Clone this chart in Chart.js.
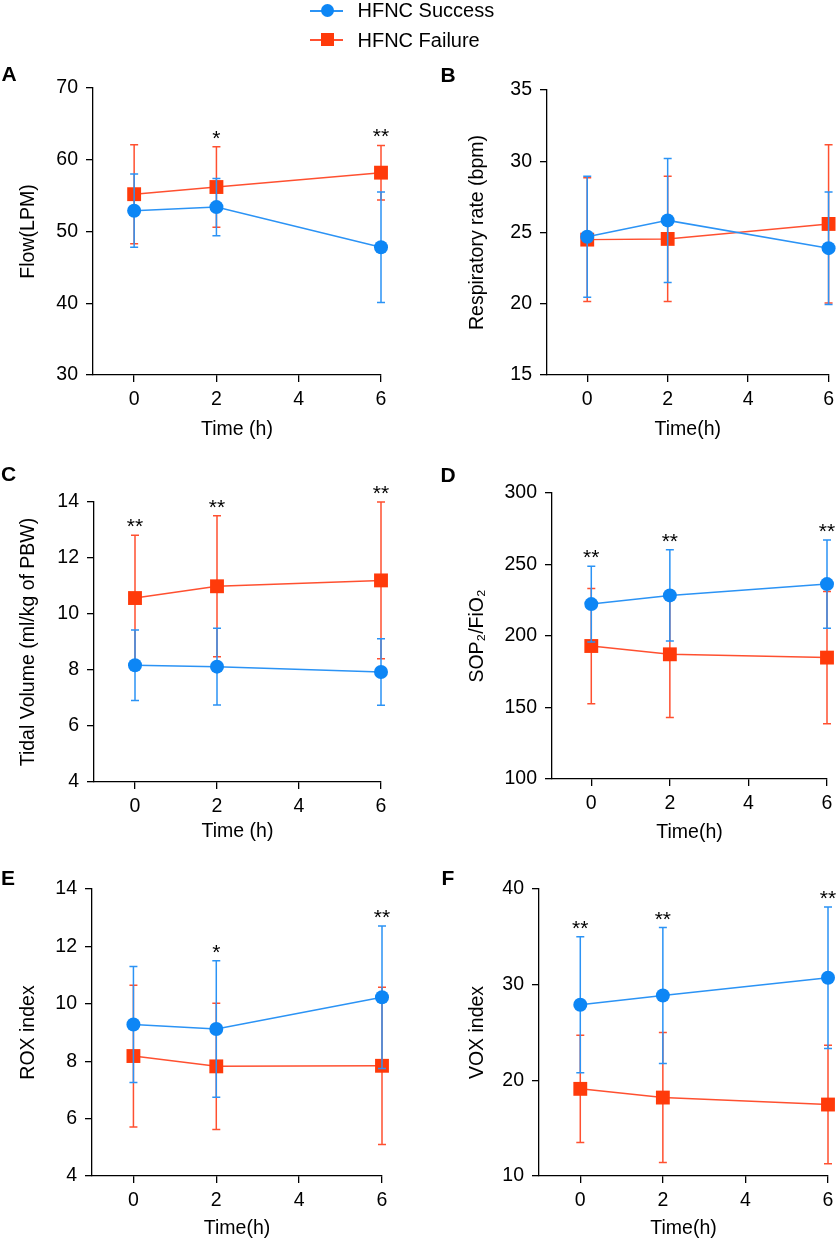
<!DOCTYPE html>
<html>
<head>
<meta charset="utf-8">
<script src="https://cdn.jsdelivr.net/npm/chart.js@4.4.0/dist/chart.umd.min.js"></script>
<style>
  html, body { margin: 0; padding: 0; background: #fff; }
  #page { position: relative; width: 840px; height: 1241px; overflow: hidden;
          font-family: 'Liberation Sans', Arial, Helvetica, sans-serif; color: #000; }
  #page canvas { position: absolute; left: 0; top: 0; }
  .txt { position: absolute; white-space: nowrap; line-height: 1; }
  .letter { font-size: 21px; font-weight: bold; }
  .keytxt { font-size: 20px; }
  .keyline { position: absolute; height: 1.5px; width: 33px; left: 310px; }
  .keydot { position: absolute; width: 13px; height: 13px; left: 320.5px; }
</style>
</head>
<body>
<div id="page">
  <!-- legend -->
  <div class="keyline" style="top:10px;background:#2b93f5"></div>
  <div class="keydot" style="top:4.3px;background:#0d86f5;border-radius:50%"></div>
  <div class="txt keytxt" style="left:357.5px;top:-0.2px">HFNC Success</div>
  <div class="keyline" style="top:39px;background:#ff5030"></div>
  <div class="keydot" style="top:33px;background:#ff3a0a"></div>
  <div class="txt keytxt" style="left:357.5px;top:29.8px">HFNC Failure</div>

  <!-- panel letters -->
  <div class="txt letter" style="left:1.5px;top:63px">A</div>
  <div class="txt letter" style="left:440.5px;top:64px">B</div>
  <div class="txt letter" style="left:1px;top:463px">C</div>
  <div class="txt letter" style="left:440.5px;top:464px">D</div>
  <div class="txt letter" style="left:1px;top:867px">E</div>
  <div class="txt letter" style="left:441.5px;top:867px">F</div>
</div>

<script>
// mean +/- SD, at 0, 2 and 6 h
const timeHours = [0, 2, 6];
const timeTicks = [0, 2, 4, 6];

const flowSuccess = [52.9, 53.4, 47.8];
const flowSuccessSD = [5.1, 4.0, 7.7];
const flowFailure = [55.2, 56.2, 58.2];
const flowFailureSD = [6.9, 5.6, 3.8];
const flowTicks = [30, 40, 50, 60, 70];
const flowStars = ['', '*', '**'];

const rrSuccess = [24.7, 25.85, 23.9];
const rrSuccessSD = [4.25, 4.35, 3.95];
const rrFailure = [24.5, 24.55, 25.6];
const rrFailureSD = [4.35, 4.4, 5.55];
const rrTicks = [15, 20, 25, 30, 35];
const rrStars = ['', '', ''];

const vtSuccess = [8.17, 8.12, 7.93];
const vtSuccessSD = [1.26, 1.37, 1.19];
const vtFailure = [10.57, 10.99, 11.2];
const vtFailureSD = [2.24, 2.52, 2.8];
const vtTicks = [4, 6, 8, 10, 12, 14];
const vtStars = ['**', '**', '**'];

const sfSuccess = [222.3, 228.4, 236.3];
const sfSuccessSD = [26.5, 31.9, 30.8];
const sfFailure = [193, 187.2, 184.9];
const sfFailureSD = [40.3, 44.2, 46.3];
const sfTicks = [100, 150, 200, 250, 300];
const sfStars = ['**', '**', '**'];

const roxSuccess = [9.28, 9.12, 10.23];
const roxSuccessSD = [2.02, 2.38, 2.48];
const roxFailure = [8.18, 7.82, 7.84];
const roxFailureSD = [2.47, 2.2, 2.74];
const roxTicks = [4, 6, 8, 10, 12, 14];
const roxStars = ['', '*', '**'];

const voxSuccess = [27.9, 28.87, 30.72];
const voxSuccessSD = [7.1, 7.1, 7.4];
const voxFailure = [19.11, 18.2, 17.47];
const voxFailureSD = [5.6, 6.8, 6.2];
const voxTicks = [10, 20, 30, 40];
const voxStars = ['**', '**', '**'];

const BLUE_LINE = '#2b93f5', BLUE_MARK = '#0d86f5';
const RED_LINE = '#ff5030', RED_MARK = '#ff3a0a';
const FONT = "'Liberation Sans', Arial, Helvetica, sans-serif";
const TITLE_SIZE = 19.5;
const TITLE_LH = TITLE_SIZE * 1.2;

Chart.defaults.font.family = FONT;
Chart.defaults.color = '#000';

// where each plot box sits on the page (layout only)
const panels = [
  { yTitle: 'Flow(LPM)', xTitle: 'Time (h)',
    succ: flowSuccess, succSD: flowSuccessSD, fail: flowFailure, failSD: flowFailureSD,
    yTicks: flowTicks, stars: flowStars,
    area: { l: 93, t: 88, r: 381, b: 375 }, yTitleX: 29, xTitleGap: 55 },
  { yTitle: 'Respiratory rate (bpm)', xTitle: 'Time(h)',
    succ: rrSuccess, succSD: rrSuccessSD, fail: rrFailure, failSD: rrFailureSD,
    yTicks: rrTicks, stars: rrStars,
    area: { l: 547, t: 90, r: 834, b: 375 }, yTitleX: 478, xTitleGap: 54.5 },
  { yTitle: 'Tidal Volume (ml/kg of PBW)', xTitle: 'Time (h)',
    succ: vtSuccess, succSD: vtSuccessSD, fail: vtFailure, failSD: vtFailureSD,
    yTicks: vtTicks, stars: vtStars,
    area: { l: 94, t: 502, r: 381, b: 782 }, yTitleX: 29, xTitleGap: 50 },
  { yTitle: 'SOP\u2082/FiO\u2082', xTitle: 'Time(h)',
    succ: sfSuccess, succSD: sfSuccessSD, fail: sfFailure, failSD: sfFailureSD,
    yTicks: sfTicks, stars: sfStars,
    area: { l: 552, t: 493, r: 827, b: 779 }, yTitleX: 478, xTitleGap: 54 },
  { yTitle: 'ROX index', xTitle: 'Time(h)',
    succ: roxSuccess, succSD: roxSuccessSD, fail: roxFailure, failSD: roxFailureSD,
    yTicks: roxTicks, stars: roxStars,
    area: { l: 92, t: 889, r: 382, b: 1176 }, yTitleX: 29, xTitleGap: 53 },
  { yTitle: 'VOX index', xTitle: 'Time(h)',
    succ: voxSuccess, succSD: voxSuccessSD, fail: voxFailure, failSD: voxFailureSD,
    yTicks: voxTicks, stars: voxStars,
    area: { l: 539, t: 889, r: 828, b: 1176 }, yTitleX: 478, xTitleGap: 52.5 }
];

// error bars drawn just under each dataset's own line and markers
const errorBars = {
  id: 'errorBars',
  beforeDatasetDraw(chart, args) {
    const ds = chart.data.datasets[args.index];
    const yScale = chart.scales.y;
    const ctx = chart.ctx;
    ctx.save();
    ctx.strokeStyle = ds.borderColor;
    ctx.lineWidth = 1.5;
    args.meta.data.forEach((pt, i) => {
      const m = ds.data[i].y;
      const s = ds.sd[i];
      const yTop = yScale.getPixelForValue(m + s);
      const yBot = yScale.getPixelForValue(m - s);
      ctx.beginPath();
      ctx.moveTo(pt.x, yTop);
      ctx.lineTo(pt.x, yBot);
      ctx.moveTo(pt.x - 4, yTop);
      ctx.lineTo(pt.x + 4, yTop);
      ctx.moveTo(pt.x - 4, yBot);
      ctx.lineTo(pt.x + 4, yBot);
      ctx.stroke();
    });
    ctx.restore();
  }
};

// significance stars above the highest whisker
const starMarks = {
  id: 'starMarks',
  afterDatasetsDraw(chart, args, opts) {
    const ctx = chart.ctx;
    const xScale = chart.scales.x, yScale = chart.scales.y;
    ctx.save();
    ctx.fillStyle = '#000';
    ctx.font = '21px ' + FONT;
    ctx.textAlign = 'center';
    ctx.textBaseline = 'alphabetic';
    opts.stars.forEach((st, i) => {
      if (!st) return;
      let top = Infinity;
      chart.data.datasets.forEach(ds => {
        top = Math.min(top, yScale.getPixelForValue(ds.data[i].y + ds.sd[i]));
      });
      ctx.fillText(st, xScale.getPixelForValue(timeHours[i]), top - 2);
    });
    ctx.restore();
  }
};

const page = document.getElementById('page');

panels.forEach(p => {
  const cv = document.createElement('canvas');
  cv.width = 840;
  cv.height = 1241;
  page.insertBefore(cv, page.firstChild);

  const yW = p.area.l - (p.yTitleX - TITLE_LH / 2);
  const xH = p.xTitleGap + TITLE_LH / 2;

  new Chart(cv, {
    type: 'line',
    data: {
      datasets: [{
        label: 'HFNC Success',
        data: timeHours.map((t, i) => ({ x: t, y: p.succ[i] })),
        sd: p.succSD,
        borderColor: BLUE_LINE,
        backgroundColor: BLUE_MARK,
        borderWidth: 1.5,
        pointStyle: 'circle',
        pointRadius: 7,
        pointBorderWidth: 0,
        pointBackgroundColor: BLUE_MARK,
        tension: 0,
        clip: false
      }, {
        label: 'HFNC Failure',
        data: timeHours.map((t, i) => ({ x: t, y: p.fail[i] })),
        sd: p.failSD,
        borderColor: RED_LINE,
        backgroundColor: RED_MARK,
        borderWidth: 1.5,
        pointStyle: 'rect',
        pointRadius: 9.8,
        pointBorderWidth: 0,
        pointBackgroundColor: RED_MARK,
        tension: 0,
        clip: false
      }]
    },
    options: {
      responsive: false,
      devicePixelRatio: 1,
      animation: false,
      events: [],
      layout: {
        padding: {
          left: p.area.l - yW,
          right: 840 - p.area.r,
          top: p.area.t,
          bottom: 1241 - p.area.b - xH
        }
      },
      plugins: {
        legend: { display: false },
        tooltip: { enabled: false },
        starMarks: { stars: p.stars }
      },
      scales: {
        x: {
          type: 'linear',
          min: -1,
          max: 6,
          afterBuildTicks: s => { s.ticks = timeTicks.map(v => ({ value: v })); },
          afterFit: s => { s.height = xH; },
          grid: { drawOnChartArea: false, color: '#000', lineWidth: 1.3, tickLength: 7 },
          border: { color: '#000', width: 1.3 },
          ticks: { autoSkip: false, maxRotation: 0, padding: 6, font: { size: 19.5 }, color: '#000' },
          title: { display: true, text: p.xTitle, font: { size: TITLE_SIZE }, color: '#000',
                   padding: { top: 0, bottom: 0 } }
        },
        y: {
          min: p.yTicks[0],
          max: p.yTicks[p.yTicks.length - 1],
          afterBuildTicks: s => { s.ticks = p.yTicks.map(v => ({ value: v })); },
          afterFit: s => { s.width = yW; },
          grid: { drawOnChartArea: false, color: '#000', lineWidth: 1.3, tickLength: 7 },
          border: { color: '#000', width: 1.3 },
          ticks: { autoSkip: false, padding: 8, font: { size: 19.5 }, color: '#000' },
          title: { display: true, text: p.yTitle, font: { size: TITLE_SIZE }, color: '#000',
                   padding: { top: 0, bottom: 0 } }
        }
      }
    },
    plugins: [errorBars, starMarks]
  });
});
</script>
</body>
</html>
